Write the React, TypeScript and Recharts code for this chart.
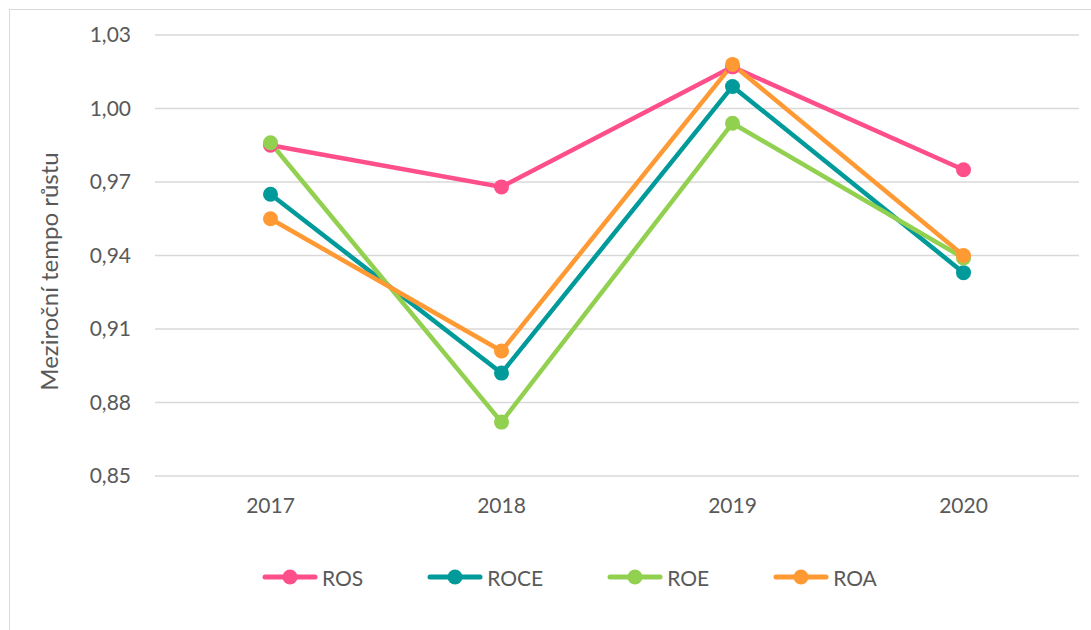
import {
  LineChart,
  Line,
  XAxis,
  YAxis,
  CartesianGrid,
  Legend,
} from "recharts";

const years = ["2017", "2018", "2019", "2020"];
const ros = [0.985, 0.968, 1.017, 0.975];
const roce = [0.965, 0.892, 1.009, 0.933];
const roe = [0.986, 0.872, 0.994, 0.939];
const roa = [0.955, 0.901, 1.018, 0.94];
const yTicks = [0.85, 0.88, 0.91, 0.94, 0.97, 1.0, 1.03];
const yLabel = "Meziroční tempo růstu";

const FONT = "Lato, 'Open Sans', sans-serif";
const TEXT = "#595959";

const series = [
  { key: "ROS", values: ros, color: "#FF4F8B" },
  { key: "ROCE", values: roce, color: "#009A9A" },
  { key: "ROE", values: roe, color: "#92D050" },
  { key: "ROA", values: roa, color: "#FF9933" },
];

const data = years.map((year, i) => {
  const row: Record<string, string | number> = { year };
  series.forEach((s) => {
    row[s.key] = s.values[i];
  });
  return row;
});

const formatTick = (v: number) => v.toFixed(2).replace(".", ",");

const renderYLabel = ({ viewBox }: any) => {
  const cx = viewBox.x + 48;
  const cy = viewBox.y + viewBox.height / 2 + 16;
  return (
    <text
      x={cx}
      y={cy}
      transform={`rotate(-90, ${cx}, ${cy})`}
      textAnchor="middle"
      dominantBaseline="central"
      fill={TEXT}
      fontSize={24}
      fontFamily={FONT}
    >
      {yLabel}
    </text>
  );
};

const renderLegend = () => (
  <div
    style={{
      display: "flex",
      alignItems: "center",
      height: 30,
      paddingLeft: 262,
      gap: 64,
      fontFamily: FONT,
      fontSize: 21,
      color: TEXT,
    }}
  >
    {series.map((s) => (
      <div key={s.key} style={{ display: "flex", alignItems: "center" }}>
        <svg width={56} height={18} style={{ marginRight: 4 }}>
          <line
            x1={3}
            y1={9}
            x2={53}
            y2={9}
            stroke={s.color}
            strokeWidth={5}
            strokeLinecap="round"
          />
          <circle cx={28} cy={9} r={7.5} fill={s.color} />
        </svg>
        <span>{s.key}</span>
      </div>
    ))}
  </div>
);

export default function App() {
  return (
    <div style={{ position: "relative", width: 1091, height: 630, background: "#fff" }}>
      <style>{`body{margin:0;overflow:hidden}`}</style>
      <div
        style={{
          position: "absolute",
          left: 9,
          top: 9,
          width: 1100,
          height: 640,
          border: "1.5px solid #d9d9d9",
        }}
      />
      <div style={{ position: "absolute", left: 0, top: 0 }}>
        <LineChart
          width={1091}
          height={630}
          data={data}
          margin={{ top: 35, right: 12, left: 0, bottom: 38 }}
        >
          <CartesianGrid vertical={false} stroke="#d9d9d9" strokeWidth={1.5} />
          <XAxis
            dataKey="year"
            axisLine={false}
            tickLine={false}
            tickSize={0}
            tickMargin={22}
            height={86}
            padding={{ left: 115.5, right: 115.5 }}
            tick={{ fill: TEXT, fontSize: 21, fontFamily: FONT }}
          />
          <YAxis
            domain={[0.85, 1.03]}
            ticks={yTicks}
            interval={0}
            axisLine={false}
            tickLine={false}
            tickSize={0}
            tickMargin={24}
            width={155}
            tickFormatter={formatTick}
            tick={{ fill: TEXT, fontSize: 21, fontFamily: FONT }}
            label={renderYLabel}
          />
          <Legend
            verticalAlign="bottom"
            content={renderLegend}
            wrapperStyle={{ left: 0, width: 1091 }}
          />
          {series.map((s) => (
            <Line
              key={s.key}
              type="linear"
              dataKey={s.key}
              stroke={s.color}
              strokeWidth={4.5}
              dot={{ r: 7.5, fill: s.color, stroke: s.color, strokeWidth: 0 }}
              activeDot={false}
              isAnimationActive={false}
            />
          ))}
        </LineChart>
      </div>
    </div>
  );
}
